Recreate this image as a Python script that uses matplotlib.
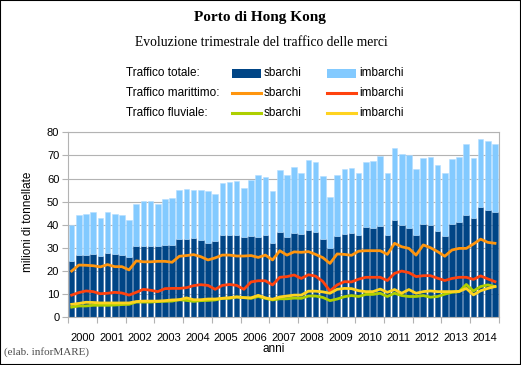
import matplotlib
matplotlib.use("Agg")
import matplotlib.pyplot as plt
from matplotlib.patches import Rectangle
from matplotlib.lines import Line2D
import numpy as np

years = [str(y) for y in range(2000, 2015)]

totale = [40, 44.2, 44.8, 45.4,
          42.9, 45.4, 44.8, 44.2,
          42.2, 49, 50.3, 50.3,
          49.1, 51, 51.6, 54.9,
          55.3, 55, 54.9, 54.6,
          53.3, 58.1, 58.7, 58.8,
          55.9, 59.4, 61.5, 60.5,
          54.8, 63.8, 61.5, 64.8,
          62.3, 68, 67, 61.1,
          52, 61.5, 64.2, 64.5,
          62.5, 67, 67.8, 69.6,
          62.4, 73.1, 70.5, 70.2,
          64.3, 68.8, 69.2, 66,
          62.2, 68.4, 69.5, 74.8,
          68.8, 77, 76.3, 75]

tot_sbarchi = [24.5, 27, 27, 27.4,
               26.5, 27.9, 27.4, 27.1,
               26.1, 30.7, 30.8, 30.8,
               30.8, 31.2, 31.2, 34,
               33.7, 34.4, 33.3, 32.3,
               33.1, 35.4, 35.5, 35.6,
               34.6, 35.1, 34.9, 35.7,
               32.3, 37, 34.8, 36.6,
               36.1, 37.7, 36.9, 33.9,
               30.1, 35.3, 36.2, 36.6,
               35.7, 39.1, 38.8, 39.6,
               35.6, 42.2, 40.1, 38.7,
               35.6, 40.5, 39.9, 37.3,
               35.2, 40.4, 41.2, 44.2,
               42.9, 47.7, 46.6, 45.5]

mar_sbarchi = [20, 22.6, 22.5, 22.3,
               21.8, 22.8, 21.9, 21.9,
               20.5, 24.4, 24, 24,
               24.2, 24.2, 23.8, 26.4,
               26.7, 27.1, 26.2, 24.8,
               25.7, 26.9, 26.9, 26.5,
               26.5, 26.7, 25.9, 26.9,
               24.8, 28.8, 26.9, 28.3,
               28.1, 28.4, 27.2, 25.8,
               23.3, 27.4, 27.2, 26.8,
               28.6, 28.8, 28.8, 28.8,
               27.2, 32, 30.5, 29.8,
               26.9, 31.3, 30.1, 28.4,
               26.4, 29.1, 29.8, 29.8,
               31.7, 33.8, 32.4, 32]

mar_imbarchi = [9.6, 10.7, 11.4, 11.1,
                10.2, 10.4, 10.8, 10.5,
                9.6, 10.8, 12.1, 11.7,
                11.1, 12.4, 12.5, 12.5,
                12.8, 13.7, 14.1, 13.8,
                12.1, 13.8, 14.2, 13.8,
                12.1, 15.3, 15.8, 15.8,
                14, 17.3, 17.6, 18.3,
                16.8, 18.4, 17.8, 15.5,
                11.4, 14, 15.4, 15.3,
                16.5, 17.3, 17.3, 17.3,
                15.9, 19, 20, 19.3,
                17.6, 18, 18, 16.9,
                15.9, 16.8, 17.3, 17.3,
                16.4, 17.9, 16.6, 15.4]

flu_sbarchi = [4.4, 4.9, 4.9, 5.2,
               5.2, 5.2, 5.3, 5.5,
               5.6, 6.6, 6.6, 6.6,
               6.8, 6.9, 7.0, 7.6,
               7.3, 6.9, 7.2, 7.3,
               7.5, 8.2, 8.2, 8.8,
               8.5, 8.2, 9.0, 8.2,
               7.5, 8.0, 8.0, 8.3,
               8.2, 9.2, 9.2, 8.6,
               7.2, 7.9, 8.9, 9.4,
               9.0, 9.9, 9.9, 10.4,
               9.0, 10.4, 9.4, 9.0,
               9.0, 9.4, 8.7, 9.0,
               10.0, 10.8, 11.1, 14.2,
               11.4, 13.3, 14.0, 13.3]

flu_imbarchi = [5.6, 6.0, 6.5, 6.4,
                6.2, 6.2, 6.2, 6.2,
                6.2, 6.8, 7.0, 7.0,
                7.0, 7.2, 7.5, 7.6,
                8.4, 7.6, 7.6, 7.9,
                7.9, 8.2, 8.5, 8.8,
                8.5, 8.4, 9.5, 8.4,
                7.8, 8.8, 9.2, 9.6,
                9.6, 11.3, 11.3, 11.0,
                10.4, 12.1, 12.5, 12.4,
                11.5, 11.1, 11.1, 12.2,
                10.8, 12, 10.4, 12,
                10.4, 11.1, 11.4, 11.1,
                11.1, 11.1, 11.2, 12.5,
                9.7, 11.5, 12.5, 13.3]

C_DARK = "#004586"
C_LIGHT = "#83caff"
C_ORANGE = "#ff950e"
C_RED = "#ff420e"
C_GREEN = "#aecf00"
C_YELLOW = "#ffd320"
GRID = "#b3b3b3"
FONT = "Liberation Sans"
SERIF = "Liberation Serif"

W, H = 521, 365
fig = plt.figure(figsize=(W / 100, H / 100), dpi=100)
fig.patch.set_facecolor("white")

def fx(x):
    return x / W

def fy(y):
    return 1 - y / H

left, right, top, bottom = 68.3, 498.8, 132.3, 317.3
ax = fig.add_axes([fx(left), fy(bottom), fx(right) - fx(left), (bottom - top) / H])

n = len(totale)
x = np.arange(n) + 0.47
tot = np.array(totale)
sb = np.array(tot_sbarchi)
imb = tot - sb

ax.bar(x, sb, width=0.78, color=C_DARK, edgecolor="#2f67a0", linewidth=0.4, zorder=2)
ax.bar(x, imb, bottom=sb, width=0.78, color=C_LIGHT, edgecolor="#b5deff", linewidth=0.4, zorder=2)

lw = 2.0
ax.plot(x, mar_sbarchi, color=C_ORANGE, lw=lw, zorder=3, solid_joinstyle="round")
ax.plot(x, mar_imbarchi, color=C_RED, lw=lw, zorder=3, solid_joinstyle="round")
ax.plot(x, flu_sbarchi, color=C_GREEN, lw=lw, zorder=3, solid_joinstyle="round")
ax.plot(x, flu_imbarchi, color=C_YELLOW, lw=lw, zorder=3, solid_joinstyle="round")

ax.set_xlim(0, n)
ax.set_ylim(0, 80)
ax.set_yticks(np.arange(0, 81, 10))
ax.yaxis.grid(True, color=GRID, lw=0.8, zorder=0)
ax.set_axisbelow(True)
for s in ax.spines.values():
    s.set_color(GRID)
    s.set_linewidth(0.8)

ax.set_xticks(np.arange(0, n + 1, 4))
ax.set_xticklabels([])
ax.set_xticks(np.arange(2, n, 4), minor=True)
ax.set_xticklabels(years, minor=True, fontsize=8, family=FONT)
ax.tick_params(axis="x", which="major", length=4.5, color=GRID, width=0.8, direction="out")
ax.tick_params(axis="x", which="minor", length=0, pad=11.5)
ax.tick_params(axis="y", length=4.5, color=GRID, width=0.8, pad=2, labelsize=8)
for lab in ax.get_yticklabels():
    lab.set_family(FONT)

fig.text(fx(273.5), fy(349), "anni", ha="center", va="center", fontsize=8.5, family=FONT)
fig.text(fx(28.5), fy(222), "milioni di tonnellate", ha="center", va="center",
         rotation=90, fontsize=8.5, family=FONT)

# Titles
fig.text(fx(260), fy(17), "Porto di Hong Kong", ha="center", va="center",
         fontsize=11, fontweight="bold", family=SERIF)
fig.text(fx(261), fy(42), "Evoluzione trimestrale del traffico delle merci",
         ha="center", va="center", fontsize=9.8, family=SERIF)

# Legend
rows = [("Traffico totale:", 73.3), ("Traffico marittimo:", 93.3), ("Traffico fluviale:", 112.7)]
for label, yy in rows:
    fig.text(fx(126), fy(yy), label, ha="left", va="center", fontsize=8.5, family=FONT)

legend_items = [
    ("patch", C_DARK, C_LIGHT, 73.3),
    ("line", C_ORANGE, C_RED, 93.3),
    ("line", C_GREEN, C_YELLOW, 112.7),
]
for kind, c1, c2, yy in legend_items:
    for (x0, x1, c, txt, tx) in [(232, 261, c1, "sbarchi", 264), (327, 356, c2, "imbarchi", 359)]:
        if kind == "patch":
            fig.patches.append(Rectangle((fx(x0), fy(yy + 4.5)), fx(x1) - fx(x0), 9 / H,
                                         transform=fig.transFigure, color=c, lw=0))
        else:
            fig.lines.append(Line2D([fx(x0), fx(x1)], [fy(yy), fy(yy)], transform=fig.transFigure,
                                    color=c, lw=2.2))
        fig.text(fx(tx), fy(yy), txt, ha="left", va="center", fontsize=8.5, family=FONT)

fig.text(fx(4), fy(352.5), "(elab. inforMARE)", ha="left", va="center", fontsize=8,
         family=SERIF, color="#4d4d4d")

fig.patches.append(Rectangle((0, 0), 1, 1, transform=fig.transFigure, fill=False,
                             edgecolor="black", lw=1.5))

fig.savefig("out.png", dpi=100)
